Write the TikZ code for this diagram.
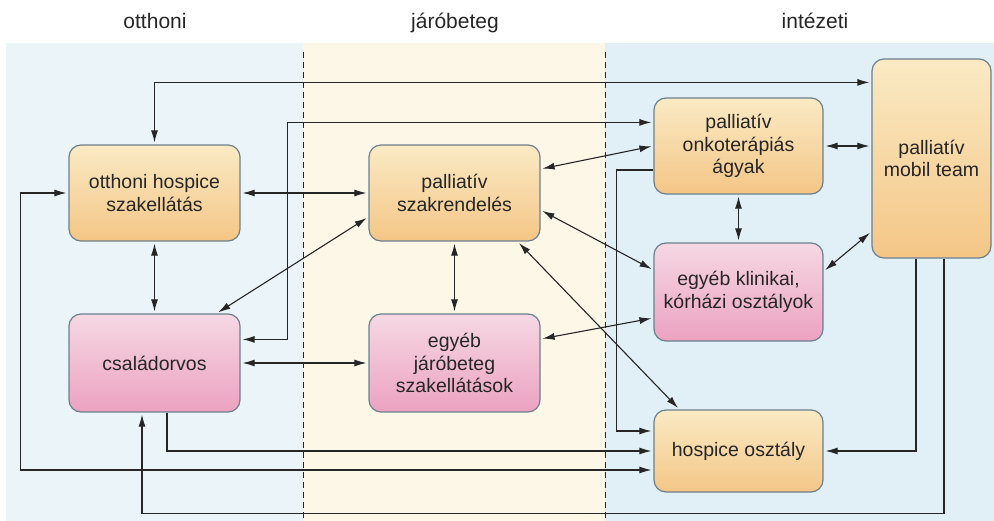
\documentclass[tikz,border=0pt]{standalone}
\usepackage{fontspec}
\setmainfont{Liberation Sans}
\usetikzlibrary{arrows.meta}

\definecolor{ink}{RGB}{38,38,38}
\definecolor{boxline}{RGB}{108,128,142}
\definecolor{orT}{RGB}{250,234,196}
\definecolor{orB}{RGB}{244,198,134}
\definecolor{pkT}{RGB}{245,216,227}
\definecolor{pkB}{RGB}{236,162,193}
\definecolor{bgHome}{RGB}{235,244,248}
\definecolor{bgOut}{RGB}{253,247,232}
\definecolor{bgInst}{RGB}{225,239,247}

\newcommand\boxtextfont{\fontsize{19.5}{22.5}\selectfont}
\newcommand\headfont{\fontsize{21}{24}\selectfont}

\begin{document}
\begin{tikzpicture}[x=1pt,y=-1pt,
  box/.style={draw=boxline, line width=1.2pt, rounded corners=12pt,
    inner sep=0pt, align=center, font=\boxtextfont, text=ink},
  orangebox/.style={box, top color=orT, bottom color=orB},
  pinkbox/.style={box, top color=pkT, bottom color=pkB},
  head/.style={font=\headfont, text=ink, anchor=base},
  tip/.tip={Latex[length=12pt,width=7pt]},
  link/.style={draw=ink, line width=1.1pt, -tip, shorten >=2pt},
  blink/.style={link, tip-tip, shorten <=2pt},
  divider/.style={draw=ink, line width=0.9pt, dash pattern=on 6pt off 4pt}]

\useasboundingbox (0,0) rectangle (994,521);

% column backgrounds
\fill[bgHome] (6,43) rectangle (303,521);
\fill[bgOut]  (303,43) rectangle (605,521);
\fill[bgInst] (605,43) rectangle (994,521);
\draw[divider] (303,52) -- (303,521);
\draw[divider] (605,52) -- (605,521);

% column headings
\node[head] (hHome) at (155,29) {otthoni};
\node[head] (hOut)  at (455,29) {járóbeteg};
\node[head] (hInst) at (815,29) {intézeti};

% care units
\node[orangebox, minimum width=171pt, minimum height=96pt] (A) at (154.5,193) {otthoni hospice\\szakellátás};
\node[pinkbox,   minimum width=171pt, minimum height=98pt] (B) at (154.5,363) {családorvos};
\node[orangebox, minimum width=171pt, minimum height=96pt] (C) at (454.5,193) {palliatív\\szakrendelés};
\node[pinkbox,   minimum width=171pt, minimum height=98pt] (D) at (454.5,363) {egyéb\\járóbeteg\\szakellátások};
\node[orangebox, minimum width=169pt, minimum height=96pt] (E) at (738.5,146) {palliatív\\onkoterápiás\\ágyak};
\node[pinkbox,   minimum width=169pt, minimum height=98pt] (F) at (738.5,292) {egyéb klinikai,\\kórházi osztályok};
\node[orangebox, minimum width=169pt, minimum height=82pt] (G) at (738.5,451) {hospice osztály};
\node[orangebox, minimum width=119pt, minimum height=199pt] (H) at (931.5,158.5) {palliatív\\mobil team};

% connections
\draw[blink] ([yshift=-24pt]H.north west) -| (A.north);
\draw[blink] ([yshift=-26pt]B.north east) -- ++(47,0) |- ([yshift=-25pt]E.north west);
\draw[blink] (A.east) -- (C.west);
\draw[blink] ([xshift=-24pt]B.north east) -- ([yshift=-24pt]C.west);
\draw[blink] (A.south) -- (B.north);
\draw[blink] (B.east) -- (D.west);
\draw[blink] (C.south) -- (D.north);
\draw[blink] ([yshift=24pt]C.east) -- (E.west);
\draw[blink] ([yshift=-17pt]C.east) -- ([yshift=22pt]F.west);
\draw[blink] ([xshift=-23pt]C.south east) -- ([xshift=26pt]G.north west);
\draw[blink] ([yshift=24pt]D.east) -- ([yshift=-26pt]F.west);
\draw[blink] (E.south) -- (F.north);
\draw[blink] (E.east) -- (E.east -| H.west);
\draw[blink] ([yshift=-29pt]F.north east) -- ([yshift=27pt]H.south west);
\draw[link] ([yshift=-24pt]E.west) -- ++(-37,0) |- ([yshift=20pt]G.west);
\draw[link] ([xshift=12.5pt]B.south) |- (G.west);
\draw[blink] (A.west) -- ++(-48,0) |- ([yshift=-19pt]G.west);
\draw[link] ([xshift=12.5pt]H.south) -- ++(0,255) -| ([xshift=-12.5pt]B.south);
\draw[link] ([xshift=-15.5pt]H.south) |- (G.east);
\end{tikzpicture}
\end{document}
